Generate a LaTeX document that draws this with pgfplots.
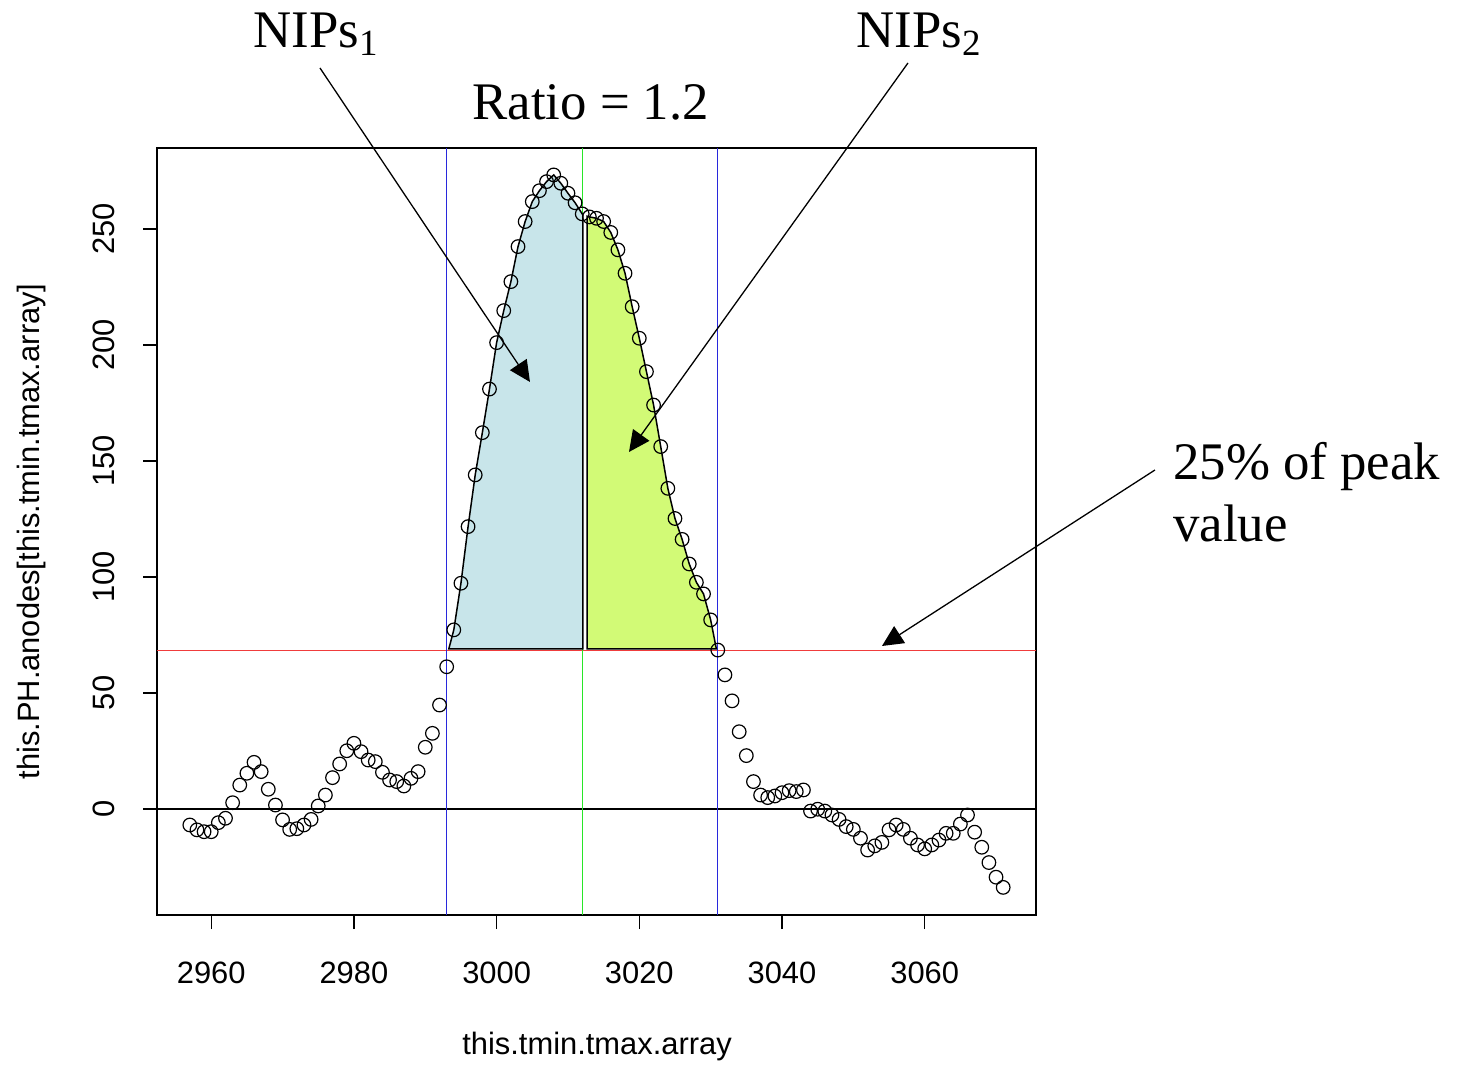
\documentclass[border=0pt]{standalone}
\usepackage{fontspec}
\setmainfont{Liberation Serif}
\setsansfont{Liberation Sans}
\usepackage{pgfplots}
\usepackage{pgfplotstable}
\pgfplotsset{compat=1.18}
\usetikzlibrary{arrows.meta}

\definecolor{nipsblue}{RGB}{200,229,234}
\definecolor{nipsgreen}{RGB}{210,250,118}
\definecolor{lineblue}{RGB}{40,40,220}
\definecolor{linegreen}{RGB}{40,230,40}
\definecolor{linered}{RGB}{240,60,60}

% peak height per time step
\pgfplotstableread{
x y
2957 -6.9
2958 -9.0
2959 -9.8
2960 -9.8
2961 -5.9
2962 -4.0
2963 2.7
2964 10.3
2965 15.4
2966 20.1
2967 16.1
2968 8.5
2969 1.7
2970 -4.7
2971 -8.8
2972 -8.5
2973 -6.9
2974 -4.5
2975 1.3
2976 6.0
2977 13.5
2978 19.4
2979 25.1
2980 28.3
2981 24.7
2982 21.1
2983 20.4
2984 15.8
2985 12.5
2986 11.8
2987 9.9
2988 13.2
2989 16.1
2990 26.6
2991 32.6
2992 44.8
2993 61.3
2994 77.2
2995 97.3
2996 121.7
2997 144.0
2998 162.2
2999 181.0
3000 201.0
3001 214.8
3002 227.3
3003 242.4
3004 253.2
3005 261.8
3006 266.5
3007 270.4
3008 273.3
3009 269.7
3010 265.4
3011 261.3
3012 256.5
3013 255.2
3014 254.6
3015 253.2
3016 248.5
3017 241.0
3018 230.9
3019 216.5
3020 202.9
3021 188.5
3022 174.1
3023 156.2
3024 138.2
3025 125.2
3026 116.2
3027 105.6
3028 97.7
3029 92.7
3030 81.5
3031 68.5
3032 57.8
3033 46.6
3034 33.3
3035 23.0
3036 11.8
3037 6.0
3038 4.9
3039 5.6
3040 7.0
3041 7.9
3042 7.5
3043 8.2
3044 -0.9
3045 -0.1
3046 -0.9
3047 -2.6
3048 -4.5
3049 -7.6
3050 -8.8
3051 -12.6
3052 -17.7
3053 -15.9
3054 -14.4
3055 -9.0
3056 -6.9
3057 -8.8
3058 -12.6
3059 -15.5
3060 -17.2
3061 -15.5
3062 -13.4
3063 -10.5
3064 -10.5
3065 -6.5
3066 -2.6
3067 -10.0
3068 -16.5
3069 -23.1
3070 -29.4
3071 -33.8
}\phdata

\begin{document}
\begin{tikzpicture}
\begin{axis}[
    at={(78.5bp,75.5bp)}, anchor=south west,
    scale only axis, width=439.5bp, height=383.5bp,
    xmin=2952.4, xmax=3075.6, ymin=-45.7, ymax=284.9,
    xtick={2960,2980,...,3060}, ytick={0,50,...,250},
    xtick pos=bottom, ytick pos=left,
    tick align=outside, major tick length=7bp,
    tick style={black, line width=0.6bp},
    axis line style={line width=0.6bp},
    /pgf/number format/1000 sep={},
    /pgf/number format/assume math mode=true,
    ticklabel style={font=\sffamily\fontsize{15.5}{18}\selectfont},
    xticklabel shift=13bp,
    yticklabel shift=10.5bp,
    yticklabel style={rotate=90, anchor=south},
    xlabel={this.tmin.tmax.array},
    ylabel={this.PH.anodes[this.tmin.tmax.array]},
    every axis x label/.style={at={(axis description cs:0.5006,-0.1721)}, anchor=center,
        font=\sffamily\fontsize{15.5}{18}\selectfont},
    every axis y label/.style={at={(axis description cs:-0.1422,0.5)}, anchor=center, rotate=90,
        font=\sffamily\fontsize{15.5}{18}\selectfont},
]
\addplot[only marks, mark=o, mark size=3.4bp, black, mark options={line width=0.6bp}] table {\phdata};

% reference lines
\addplot[black, line width=0.6bp] coordinates {(2952.4,0) (3075.6,0)};
\addplot[linered, line width=0.7bp] coordinates {(2952.4,68.3) (3075.6,68.3)};
\addplot[lineblue, line width=0.7bp] coordinates {(2993,-45.7) (2993,284.9)};
\addplot[lineblue, line width=0.7bp] coordinates {(3031,-45.7) (3031,284.9)};
\addplot[linegreen, line width=0.7bp] coordinates {(3012,-45.7) (3012,284.9)};

% NIPs areas
\addplot[fill=nipsblue, draw=black, line width=0.75bp] coordinates {
(2993.3,69) (2994,77.2) (2995,97.3) (2996,121.7) (2997,144) (2998,162.2)
(2999,181) (3000,201) (3001,214.8) (3002,227.3) (3003,242.4) (3004,253.2)
(3005,261.8) (3006,266.5) (3007,270.4) (3008,273.3) (3009,269.7) (3010,265.4)
(3011,261.3) (3012.1,256) (3012.1,69)} -- cycle;
\addplot[fill=nipsgreen, draw=black, line width=0.75bp] coordinates {
(3012.7,69) (3012.7,255.5) (3013,255.2) (3014,254.6) (3015,253.2) (3016,248.5)
(3017,241) (3018,230.9) (3019,216.5) (3020,202.9) (3021,188.5) (3022,174.1)
(3023,156.2) (3024,138.2) (3025,125.2) (3026,116.2) (3027,105.6) (3028,97.7)
(3029,92.7) (3030,81.5) (3030.8,69)} -- cycle;
\end{axis}

% annotations, placed in pixel units of the reference
\begin{scope}[shift={(0,533bp)}, x=0.5bp, y=-0.5bp]
  \tikzset{ann/.style={anchor=base west, inner sep=0pt, font=\fontsize{26.5}{30}\selectfont}}
  \node[ann] at (253,48) {NIPs\textsubscript{1}};
  \node[ann] at (856,48) {NIPs\textsubscript{2}};
  \node[ann] at (472,120) {Ratio = 1.2};
  \node[ann] at (1173,480) {25\% of peak};
  \node[ann] at (1173,542) {value};
  \tikzset{arr/.style={line width=0.65bp, -{Triangle[length=10.5bp,width=10bp]}}}
  \draw[arr] (320,68) -- (530,382);
  \draw[arr] (908,63) -- (629,452);
  \draw[arr] (1155,470) -- (882,646);
\end{scope}

\pgfresetboundingbox
\useasboundingbox (0,0) rectangle (731.5bp,533bp);
\end{tikzpicture}
\end{document}
